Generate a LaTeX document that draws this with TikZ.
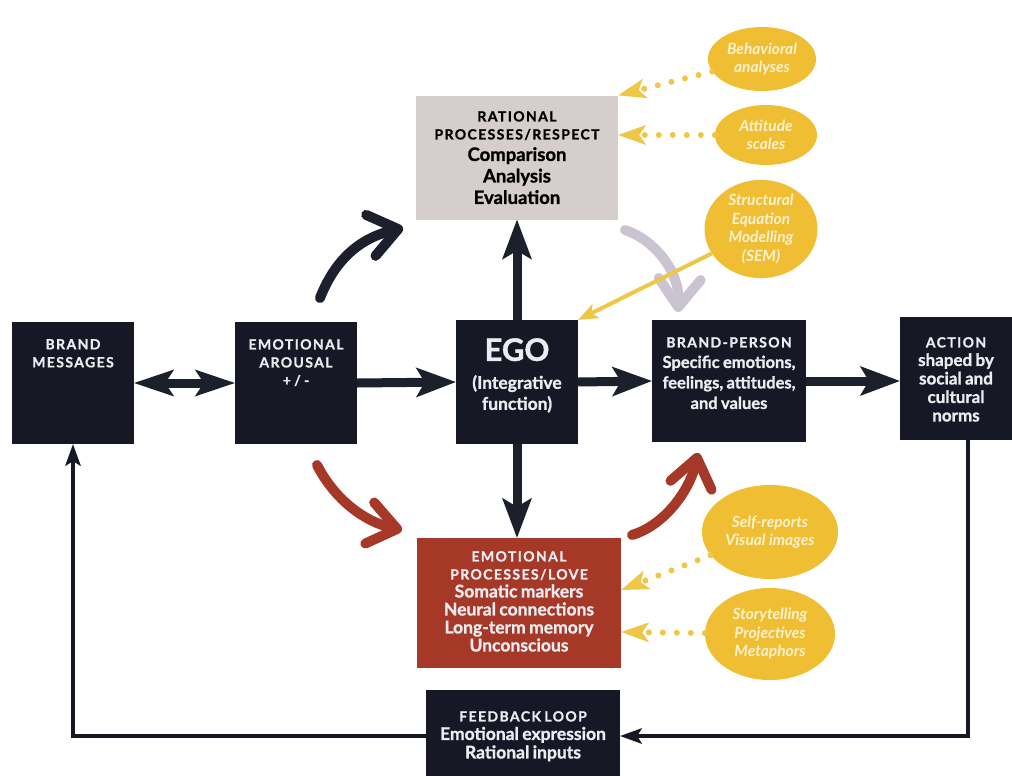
\documentclass[tikz,border=0pt]{standalone}
\usepackage{fontspec}
\setmainfont{Lato}[BoldFont={Lato Bold}, BoldItalicFont={Lato Bold Italic}]
\newfontfamily\capsfont{Lato Bold}[LetterSpace=10, FakeBold=1]
\newfontfamily\heavyfont{Lato Bold}[FakeBold=1.2]
\usetikzlibrary{arrows.meta,shapes.geometric}

\definecolor{boxblack}{RGB}{22,24,38}
\definecolor{boxtext}{RGB}{236,236,240}
\definecolor{ratfill}{RGB}{214,206,204}
\definecolor{emofill}{RGB}{166,56,40}
\definecolor{ellfill}{RGB}{240,190,50}
\definecolor{elltext}{RGB}{252,242,210}
\definecolor{dotcol}{RGB}{240,198,70}
\definecolor{greyarrow}{RGB}{202,196,210}
\definecolor{redarrow}{RGB}{166,56,40}
\definecolor{darkarrow}{RGB}{28,32,44}

% heading lines in spaced capitals, body lines in plain bold
\newcommand\hdrfont{\capsfont\fontsize{14}{18}\selectfont}
\newcommand\bodytext[2]{\heavyfont\fontsize{#1}{#2}\selectfont}

\begin{document}
\begin{tikzpicture}[x=1pt,y=-1pt,
  box/.style={fill=boxblack, draw=none, inner sep=0pt},
  txt/.style={text width=#1, align=center, inner sep=0pt, anchor=north, text=boxtext, font=\heavyfont},
  oval/.style={ellipse, fill=ellfill, draw=none, inner sep=0pt, align=center,
               text=elltext, font=\bfseries\itshape\fontsize{15.5}{18.5}\selectfont},
  bigarrow/.style={draw=darkarrow, line width=9pt,
               -{Stealth[length=40pt,width=30pt,inset=9pt,line width=0pt]}},
  twoway/.style={draw=darkarrow, line width=9pt,
               {Stealth[length=40pt,width=27pt,inset=9pt,line width=0pt]}-{Stealth[length=40pt,width=27pt,inset=9pt,line width=0pt]}},
  curvy/.style={line width=10pt, line cap=round,
               -{Straight Barb[length=28pt,width=42pt,round]}},
  dotted arrow/.style={draw=dotcol, line width=6pt, line cap=round, dash pattern=on 0pt off 14pt,
               -{Stealth[length=28pt,width=20pt,inset=7pt,line width=0pt]}},
  semline/.style={draw=dotcol, line width=4pt,
               -{Stealth[length=20pt,width=16pt,inset=5pt,line width=0pt]}},
  fbline/.style={draw=boxblack, line width=4pt,
               -{Stealth[length=22pt,width=16pt,inset=5pt,line width=0pt]}}
]
\useasboundingbox (0,0) rectangle (1012,776);
\fill[white] (0,0) rectangle (1012,776);

% main row of boxes
\node[box, minimum width=122pt, minimum height=122pt] (bm)  at (73,383) {};
\node[box, minimum width=122pt, minimum height=122pt] (ea)  at (296,383) {};
\node[box, minimum width=122pt, minimum height=124pt] (ego) at (517,382) {};
\node[box, minimum width=154pt, minimum height=122pt] (bp)  at (729,381) {};
\node[box, minimum width=112pt, minimum height=123pt] (act) at (956,378.5) {};

% process boxes above and below the ego
\node[fill=ratfill, inner sep=0pt, minimum width=202pt, minimum height=124pt] (rat) at (517,157.5) {};
\node[fill=emofill, inner sep=0pt, minimum width=204pt, minimum height=130pt] (emo) at (519,603) {};
\node[box, minimum width=194pt, minimum height=92pt] (fb) at (523,736) {};

% box texts
\node[txt=120pt] (bmt) at (73,339) {\hdrfont BRAND\par MESSAGES\par};
\node[txt=120pt] (eat) at (296,339) {\hdrfont EMOTIONAL\par AROUSAL\par + / -\par};
\node[txt=120pt] (egot) at (517,338) {{\fontsize{31}{32}\selectfont EGO\par}\vskip 7pt\bodytext{17.5}{21} (Integrative\par function)\par};
\node[txt=154pt] (bpt) at (729,337) {\hdrfont BRAND-PERSON\par\bodytext{16.5}{20.5}Specific emotions,\par feelings, attitudes,\par and values\par};
\node[txt=112pt] (actt) at (956,337) {\hdrfont ACTION\par\bodytext{17}{18.5}shaped by\par social and\par cultural\par norms\par};
\node[txt=200pt, text=black] (ratt) at (517,111) {\hdrfont RATIONAL\par PROCESSES/RESPECT\par\bodytext{18.5}{21.5}Comparison\par Analysis\par Evaluation\par};
\node[txt=200pt] (emot) at (519,551) {\hdrfont EMOTIONAL\par PROCESSES/LOVE\par\bodytext{17.5}{18}Somatic markers\par Neural connections\par Long-term memory\par Unconscious\par};
\node[txt=194pt] (fbt) at (523,711) {\hdrfont FEEDBACK LOOP\par\bodytext{17.5}{18.5}Emotional expression\par Rational inputs\par};

% measurement ovals
\node[oval, minimum width=108pt, minimum height=64pt] (beh) at (762,59) {Behavioral\\analyses};
\node[oval, minimum width=102pt, minimum height=60pt] (att) at (766,135) {Attitude\\scales};
\node[oval, minimum width=113pt, minimum height=95pt] (sem) at (761,229) {Structural\\Equation\\Modelling\\(SEM)};
\node[oval, minimum width=136pt, minimum height=94pt] (self) at (770,532) {Self-reports\\Visual images};
\node[oval, minimum width=130pt, minimum height=92pt] (story) at (770,634) {Storytelling\\Projectives\\Metaphors};

% straight flow arrows
\draw[twoway] (bm.east) -- (ea.west);
\draw[bigarrow] (ea.east) -- (ego.west);
\draw[bigarrow] (ego.east) -- (bp.west);
\draw[bigarrow] (bp.east) -- (bp.east -| act.west);
\draw[bigarrow] (ego.north) -- (rat.south);
\draw[bigarrow] (ego.south) -- (ego.south |- emo.north);

% curved arrows between the processes
\coordinate (c1s) at (320,298); \coordinate (c1e) at (403,228);
\coordinate (c2s) at (625,230); \coordinate (c2e) at (678,312);
\coordinate (c3s) at (317,465); \coordinate (c3e) at (402,530);
\coordinate (c4s) at (632,535); \coordinate (c4e) at (698,453);
\draw[curvy, draw=darkarrow] (c1s) .. controls (338,252) and (368,236) .. (c1e);
\draw[curvy, draw=greyarrow] (c2s) .. controls (655,240) and (680,272) .. (c2e);
\draw[curvy, draw=redarrow]  (c3s) .. controls (335,500) and (365,522) .. (c3e);
\draw[curvy, draw=redarrow]  (c4s) .. controls (665,525) and (690,490) .. (c4e);

% measurement links
\draw[dotted arrow] (beh) -- (rat.north east);
\draw[dotted arrow] (att) -- (rat.east |- att);
\draw[semline] (sem) -- (ego.north east);
\draw[dotted arrow] (self) -- ([yshift=13pt]emo.east);
\draw[dotted arrow] (story) -- ([yshift=-29pt]emo.east);

% feedback loop
\draw[fbline] ([xshift=12pt]act.south) |- (fb.east);
\draw[fbline] (fb.west) -| (bm.south);
\end{tikzpicture}
\end{document}
